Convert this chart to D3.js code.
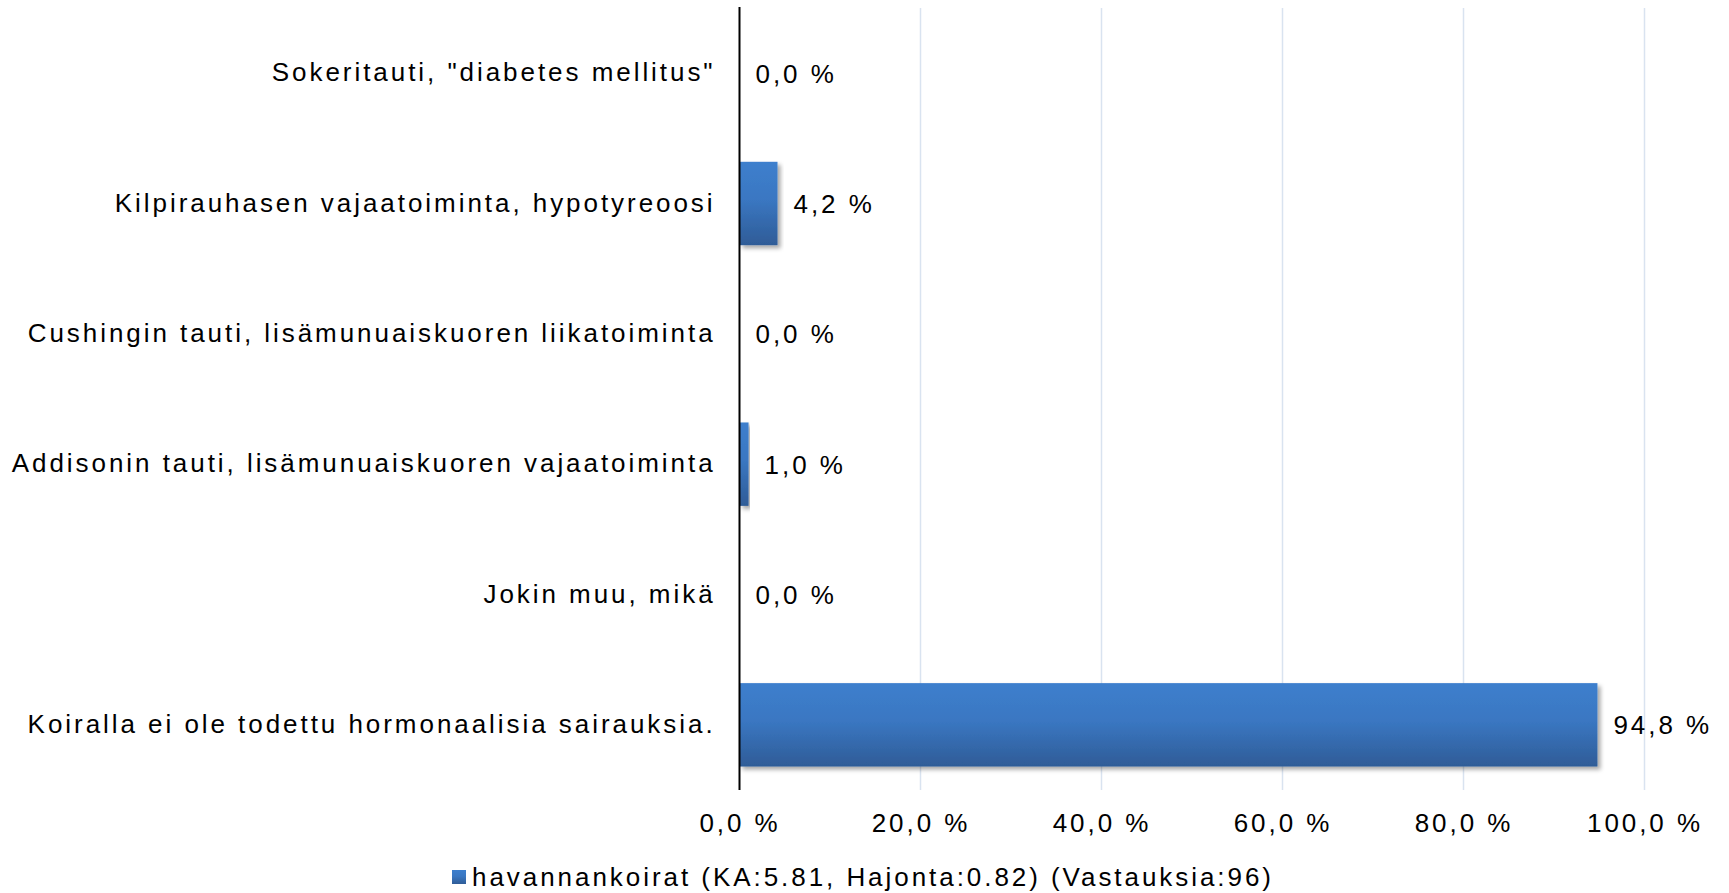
<!DOCTYPE html>
<html>
<head>
<meta charset="utf-8">
<script src="https://cdn.jsdelivr.net/npm/d3@7"></script>
<style>
  html, body { margin: 0; padding: 0; background: #fff; }
  svg { display: block; }
  text { font-family: "Liberation Sans", Arial, Helvetica, sans-serif; fill: #000; }
</style>
</head>
<body>
<svg id="chart" width="1729" height="893"></svg>
<script>
// Answer categories (top to bottom) and share of respondents (%)
const categories = [
  "Sokeritauti, \"diabetes mellitus\"",
  "Kilpirauhasen vajaatoiminta, hypotyreoosi",
  "Cushingin tauti, lisämunuaiskuoren liikatoiminta",
  "Addisonin tauti, lisämunuaiskuoren vajaatoiminta",
  "Jokin muu, mikä",
  "Koiralla ei ole todettu hormonaalisia sairauksia."
];
const values = [0.0, 4.2, 0.0, 1.0, 0.0, 94.8];
const xTicks = [0, 20, 40, 60, 80, 100];
const seriesName = "havannankoirat (KA:5.81, Hajonta:0.82) (Vastauksia:96)";

const fmt = v => v.toFixed(1).replace(".", ",") + " %";

const svg = d3.select("#chart");
const plot = { left: 739.5, right: 1644.5, top: 8, bottom: 790 };
const fontSize = 26;
const spacing = 2.95;

const x = d3.scaleLinear().domain([0, 100]).range([plot.left, plot.right]);
const y = d3.scaleBand().domain(categories).range([plot.top, plot.bottom])
  .paddingInner(0.36).paddingOuter(0.18);

// Gradient fill and soft shadow for the bars
const defs = svg.append("defs");
const grad = defs.append("linearGradient").attr("id", "barGrad")
  .attr("x1", 0).attr("y1", 0).attr("x2", 0).attr("y2", 1);
grad.append("stop").attr("offset", "0%").attr("stop-color", "#3d7fcd");
grad.append("stop").attr("offset", "45%").attr("stop-color", "#3a77c2");
grad.append("stop").attr("offset", "100%").attr("stop-color", "#2f5c97");
const shadow = defs.append("filter").attr("id", "barShadow")
  .attr("x", "-5%").attr("y", "-20%").attr("width", "120%").attr("height", "150%");
shadow.append("feDropShadow").attr("dx", 3).attr("dy", 3)
  .attr("stdDeviation", 2.2).attr("flood-color", "#000").attr("flood-opacity", 0.35);

// Vertical gridlines
svg.append("g").selectAll("line")
  .data(xTicks.filter(t => t > 0))
  .join("line")
  .attr("x1", d => x(d)).attr("x2", d => x(d))
  .attr("y1", plot.top).attr("y2", plot.bottom)
  .attr("stroke", "#d9e3f0").attr("stroke-width", 1.5);

// Bars
svg.append("g").selectAll("rect")
  .data(values.map((v, i) => ({ v, c: categories[i] })).filter(d => d.v > 0))
  .join("rect")
  .attr("x", x(0))
  .attr("y", d => y(d.c))
  .attr("width", d => x(d.v) - x(0))
  .attr("height", y.bandwidth())
  .attr("fill", "url(#barGrad)")
  .attr("filter", "url(#barShadow)");

// Value labels
svg.append("g").selectAll("text")
  .data(values.map((v, i) => ({ v, c: categories[i] })))
  .join("text")
  .attr("x", d => x(d.v) + 16)
  .attr("y", d => y(d.c) + y.bandwidth() / 2)
  .attr("dy", "0.36em")
  .attr("font-size", fontSize)
  .attr("letter-spacing", spacing)
  .text(d => fmt(d.v));

// Category axis (left)
const yAxis = svg.append("g")
  .attr("transform", `translate(${plot.left},0)`)
  .call(d3.axisLeft(y).tickSize(0).tickPadding(21 + spacing));
yAxis.select(".domain").remove();
yAxis.selectAll("text")
  .attr("font-size", fontSize)
  .attr("letter-spacing", spacing)
  .attr("font-family", null)
  .attr("fill", "#000");

// Value axis (bottom)
const xAxis = svg.append("g")
  .attr("transform", `translate(0,${plot.bottom})`)
  .call(d3.axisBottom(x).tickValues(xTicks).tickSize(0).tickPadding(24).tickFormat(fmt));
xAxis.select(".domain").remove();
xAxis.selectAll("text")
  .attr("font-size", fontSize)
  .attr("letter-spacing", spacing)
  .attr("font-family", null)
  .attr("fill", "#000");

// Vertical axis line at zero
svg.append("line")
  .attr("x1", x(0)).attr("x2", x(0))
  .attr("y1", plot.top - 1).attr("y2", plot.bottom)
  .attr("stroke", "#000").attr("stroke-width", 2);

// Legend
const legend = svg.append("g").attr("transform", "translate(452,877)");
legend.append("rect").attr("x", 0).attr("y", -7).attr("width", 14).attr("height", 14)
  .attr("fill", "url(#barGrad)");
legend.append("text").attr("x", 20).attr("y", 0).attr("dy", "0.36em")
  .attr("font-size", fontSize).attr("letter-spacing", spacing)
  .text(seriesName);
</script>
</body>
</html>
